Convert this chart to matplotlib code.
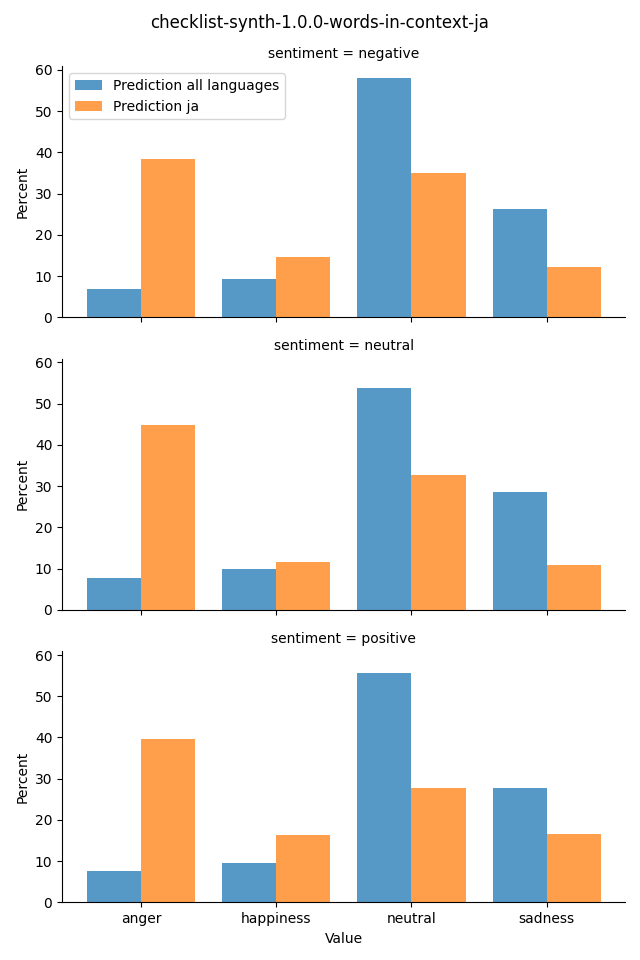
import numpy as np
import matplotlib
matplotlib.use("Agg")
import matplotlib.pyplot as plt

# categories and panels
emotions = ["anger", "happiness", "neutral", "sadness"]
sentiments = ["negative", "neutral", "positive"]

# percent values per sentiment panel
pred_all = {
    "negative": [6.8, 9.3, 58.0, 26.3],
    "neutral": [7.8, 10.0, 53.7, 28.5],
    "positive": [7.5, 9.5, 55.6, 27.7],
}
pred_ja = {
    "negative": [38.3, 14.6, 35.1, 12.2],
    "neutral": [44.9, 11.5, 32.7, 11.0],
    "positive": [39.6, 16.3, 27.7, 16.7],
}

fig, axes = plt.subplots(3, 1, figsize=(6.4, 9.6), dpi=100, sharex=True, sharey=True)
fig.subplots_adjust(left=0.097, right=0.977, top=0.931, bottom=0.060, hspace=0.165)

x = np.arange(len(emotions))
w = 0.4
for ax, s in zip(axes, sentiments):
    ax.bar(x - w / 2, pred_all[s], width=w, color="#1f77b4", alpha=0.75,
           label="Prediction all languages")
    ax.bar(x + w / 2, pred_ja[s], width=w, color="#ff7f0e", alpha=0.75,
           label="Prediction ja")
    ax.set_title(f"sentiment = {s}", fontsize=10)
    ax.set_ylabel("Percent")
    ax.spines["top"].set_visible(False)
    ax.spines["right"].set_visible(False)
    ax.tick_params(axis="x", labelbottom=(ax is axes[-1]))

axes[0].legend(loc="upper left")
axes[-1].set_xticks(x)
axes[-1].set_xticklabels(emotions)
axes[-1].set_xlabel("Value")
axes[-1].set_xlim(-0.587, 3.583)
axes[-1].set_ylim(0, 60.9)
axes[-1].set_yticks([0, 10, 20, 30, 40, 50, 60])

fig.suptitle("checklist-synth-1.0.0-words-in-context-ja", fontsize=12, y=0.985)
fig.savefig("out.png", dpi=100)
